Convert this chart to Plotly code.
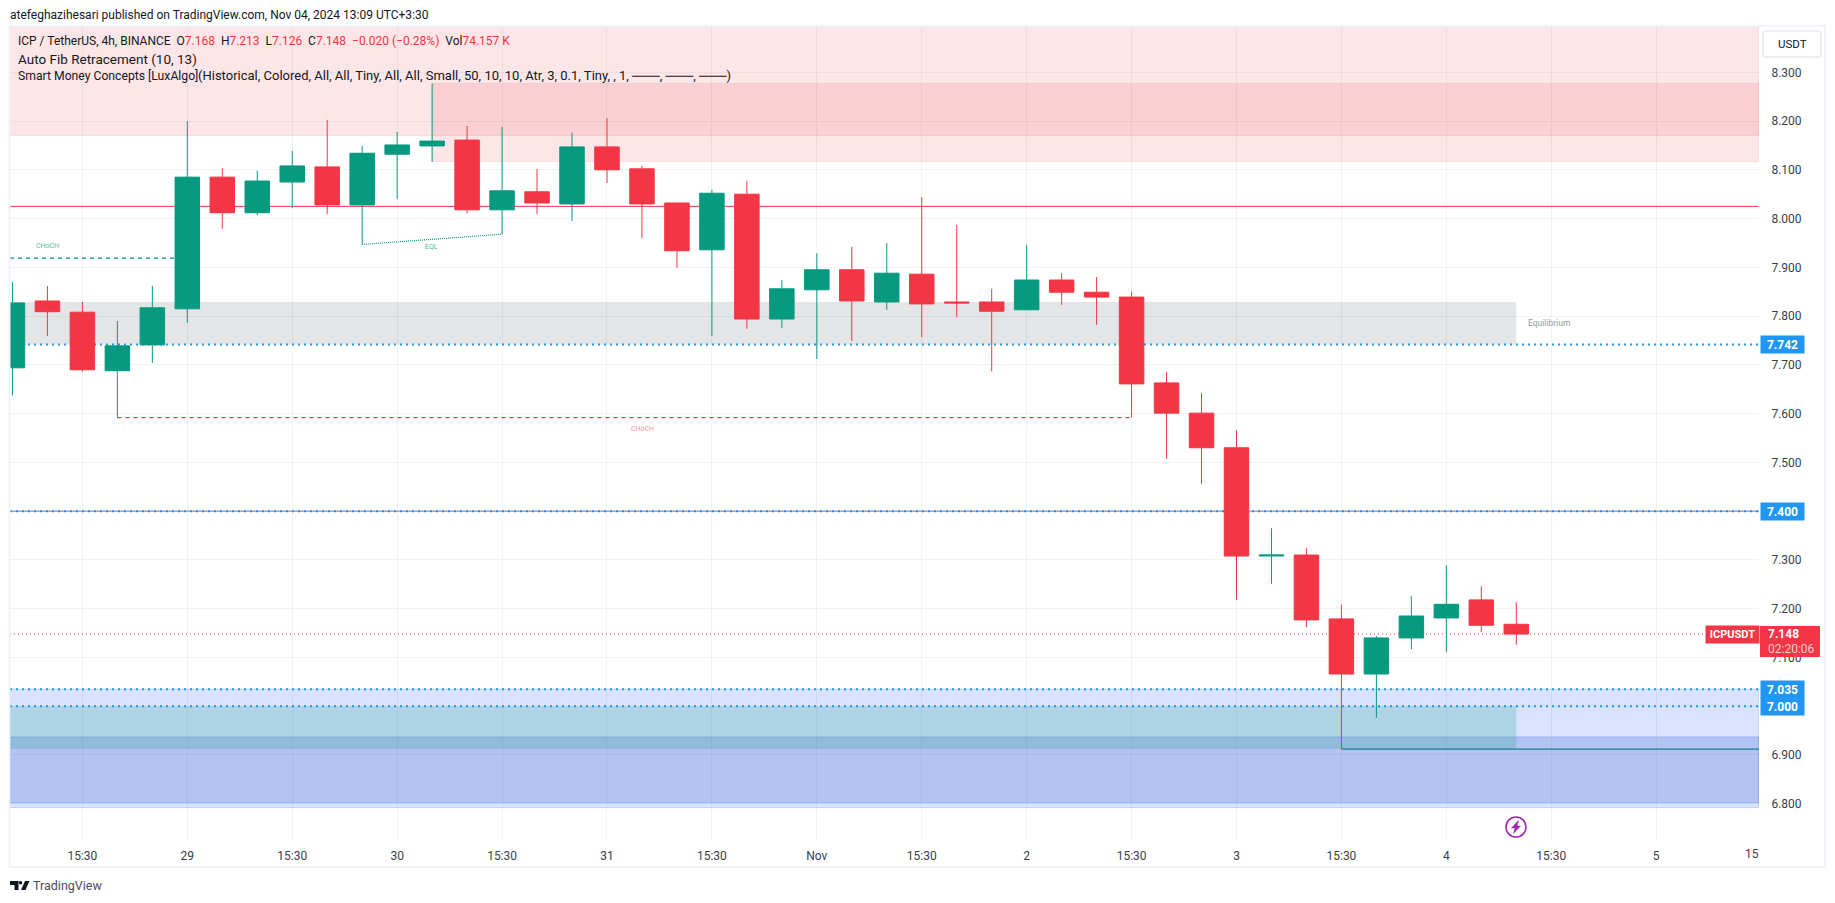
import plotly.graph_objects as go

# ---- data ----
idx = list(range(44))
opens  = [7.694,7.831,7.808,7.688,7.741,7.815,8.085,8.012,8.075,8.106,8.028,8.132,8.149,8.161,8.018,8.055,8.030,8.147,8.102,8.032,7.936,8.050,7.794,7.854,7.895,7.829,7.886,7.829,7.829,7.813,7.874,7.849,7.839,7.663,7.601,7.530,7.308,7.310,7.179,7.066,7.140,7.181,7.218,7.168]
highs  = [7.870,7.862,7.829,7.790,7.862,8.200,8.104,8.098,8.139,8.202,8.149,8.178,8.277,8.190,8.188,8.102,8.176,8.206,8.108,8.032,8.059,8.077,7.874,7.929,7.942,7.950,8.044,7.987,7.856,7.946,7.888,7.880,7.851,7.685,7.642,7.566,7.365,7.324,7.208,7.144,7.226,7.289,7.246,7.213]
lows   = [7.637,7.759,7.686,7.592,7.704,7.786,7.979,8.007,8.022,8.009,7.947,8.040,8.116,8.011,7.968,8.009,7.995,8.073,7.960,7.899,7.759,7.774,7.776,7.712,7.749,7.813,7.757,7.798,7.687,7.813,7.823,7.782,7.592,7.507,7.456,7.218,7.251,7.162,6.912,6.976,7.117,7.111,7.152,7.126]
closes = [7.827,7.809,7.690,7.739,7.817,8.085,8.012,8.077,8.108,8.028,8.134,8.151,8.159,8.018,8.057,8.032,8.147,8.100,8.030,7.934,8.052,7.794,7.856,7.895,7.831,7.888,7.825,7.827,7.810,7.874,7.849,7.839,7.661,7.601,7.530,7.308,7.310,7.177,7.066,7.140,7.185,7.209,7.166,7.148]

x_tick_pos    = [2,5,8,11,14,17,20,23,26,29,32,35,38,41,44,47]
x_tick_labels = ["15:30","29","15:30","30","15:30","31","15:30","Nov","15:30","2","15:30","3","15:30","4","15:30","5"]
y_tick_pos    = [8.3,8.2,8.1,8.0,7.9,7.8,7.7,7.6,7.5,7.4,7.3,7.2,7.1,7.0,6.9,6.8]
y_tick_labels = ["8.300","8.200","8.100","8.000","7.900","7.800","7.700","7.600","7.500","","7.300","7.200","7.100","","6.900","6.800"]

price_levels   = [7.742, 7.400, 7.035, 7.000]
last_price     = 7.148
red_level      = 8.025
choch_up_level, choch_up_end = 7.919, 5
choch_dn_level, choch_dn_start, choch_dn_end = 7.592, 3, 32
eql_points     = [(10, 7.947), (14, 7.968)]
low_level, low_start = 6.912, 38

premium_wide   = (8.17, 8.40, -1)
premium_block  = (8.117, 8.277, 12)
equilibrium    = (7.742, 7.829, 43)
discount_wide  = (6.792, 7.035)
discount_block = (6.802, 6.937)
teal_block     = (6.912, 7.000, 43)

UP, DOWN, BLUE = "#089981", "#F23645", "#2196F3"
TXT = "#131722"
FONT = "Roboto"
L, R, T, B = 10, 1759, 27, 840      # plot rectangle, pixels
XMIN, XMAX = -0.07, 49.94
YMIN, YMAX = 6.7256, 8.3929
GRID = "rgba(42,46,57,0.06)"

def px(v): return (v - L) / (R - L)
def py(v): return (B - v) / (B - T)

fig = go.Figure(go.Candlestick(
    x=idx, open=opens, high=highs, low=lows, close=closes,
    whiskerwidth=0, hoverinfo="skip",
    increasing=dict(line=dict(color=UP, width=1), fillcolor=UP),
    decreasing=dict(line=dict(color=DOWN, width=1), fillcolor=DOWN),
))

shapes = []
def rect(x0, x1, y0, y1, fill, line="rgba(0,0,0,0)"):
    shapes.append(dict(type="rect", xref="x", yref="y", x0=x0, x1=x1, y0=y0, y1=y1,
                       fillcolor=fill, line=dict(color=line, width=1), layer="below"))
def hline(y, x0, x1, color, width=1, dash="solid"):
    shapes.append(dict(type="line", xref="x", yref="y", x0=x0, x1=x1, y0=y, y1=y,
                       line=dict(color=color, width=width, dash=dash), layer="below"))

PINK, PINK_L = "rgba(242,54,69,0.125)", "rgba(242,54,69,0.10)"
BL, BL_L = "rgba(41,98,255,0.18)", "rgba(30,80,220,0.22)"
rect(XMIN, XMAX, premium_wide[0], premium_wide[1], PINK, PINK_L)
rect(premium_block[2], XMAX, premium_block[0], premium_block[1], PINK, PINK_L)
rect(XMIN, equilibrium[2], equilibrium[0], equilibrium[1], "rgba(120,123,134,0.2)")
rect(XMIN, XMAX, discount_wide[0], discount_wide[1], BL, BL_L)
rect(XMIN, XMAX, discount_block[0], discount_block[1], "rgba(30,70,200,0.2)", BL_L)
rect(XMIN, teal_block[2], teal_block[0], teal_block[1], "rgba(8,153,129,0.2)")

hline(red_level, XMIN, XMAX, "#F23645", 1)
hline(price_levels[1], XMIN, XMAX, "#6C8DB5", 1)
for lv in price_levels:
    hline(lv, XMIN, XMAX, BLUE, 2, "2px,4px")
hline(last_price, XMIN, XMAX, DOWN, 1, "1px,3px")
hline(choch_up_level, XMIN, choch_up_end, UP, 1.3, "4px,4px")
hline(choch_dn_level, choch_dn_start, choch_dn_end, DOWN, 1.3, "4px,4px")
hline(low_level, low_start, XMAX, "#14808F", 1.2)
shapes.append(dict(type="line", xref="x", yref="y", x0=eql_points[0][0], y0=eql_points[0][1],
                   x1=eql_points[1][0], y1=eql_points[1][1], layer="below",
                   line=dict(color=UP, width=1.2, dash="1px,1px")))

# frame, USDT box, tags, icon, logo (page furniture, pixel placed)
def page_shape(**k):
    shapes.append(dict(xref="paper", yref="paper", layer="above", **k))
page_shape(type="rect", x0=px(9.5), x1=px(1825), y0=py(26), y1=py(867), line=dict(color="#F0F3FA", width=2))

def P(*pts):
    return " ".join(f"{c}{px(a):.5f},{py(b):.5f}" for c, a, b in pts)
page_shape(type="path", path=P(("M",1766,31),("L",1818,31),("Q",1821,31),("",1821,34),("L",1821,54),("Q",1821,57),("",1818,57),("L",1766,57),("Q",1763,57),("",1763,54),("L",1763,34),("Q",1763,31),("",1766,31)) + " Z",
           line=dict(color="#E6E9F0", width=1.5), fillcolor="#FFFFFF")
page_shape(type="rect", x0=px(1760), x1=px(1820), y0=py(626), y1=py(657), line=dict(width=0), fillcolor=DOWN)
page_shape(type="circle", x0=px(1506), x1=px(1526), y0=py(817), y1=py(837), line=dict(color="#9C27B0", width=1.6), fillcolor="rgba(0,0,0,0)")
page_shape(type="path", path=P(("M",1518.5,820.5),("L",1511.5,828),("L",1515,828),("L",1513.5,833.5),("L",1520.5,826),("L",1517,826)) + " Z",
           line=dict(color="#9C27B0", width=0.5), fillcolor="#9C27B0")
page_shape(type="path", path=P(("M",10,881),("L",18.5,881),("L",18.5,890),("L",14.5,890),("L",14.5,885),("L",10,885)) + " Z", line=dict(width=0), fillcolor=TXT)
page_shape(type="circle", x0=px(18.7), x1=px(22.3), y0=py(881), y1=py(884.6), line=dict(width=0), fillcolor=TXT)
page_shape(type="path", path=P(("M",25,881),("L",29.5,881),("L",25.5,890),("L",21,890)) + " Z", line=dict(width=0), fillcolor=TXT)

ann = []
def text(x, y, s, size=12, color=TXT, anchor="left", **k):
    ann.append(dict(xref="paper", yref="paper", x=px(x), y=py(y), text=s, showarrow=False,
                    xanchor=anchor, yanchor="middle", font=dict(family=FONT, size=size, color=color),
                    borderpad=0, borderwidth=0, **k))

text(10, 15, "atefeghazihesari published on TradingView.com, Nov 04, 2024 13:09 UTC+3:30", 12)
r = lambda s: f'<span style="color:{DOWN}">{s}</span>'
text(18, 41, "ICP / TetherUS, 4h, BINANCE&nbsp;&nbsp;O" + r("7.168") + "&nbsp;&nbsp;H" + r("7.213") + "&nbsp;&nbsp;L" + r("7.126")
     + "&nbsp;&nbsp;C" + r("7.148") + "&nbsp;&nbsp;" + r("−0.020 (−0.28%)") + "&nbsp;&nbsp;Vol" + r("74.157 K"), 12)
text(18, 59, "Auto Fib Retracement (10, 13)", 13.5)
text(18, 76, "Smart Money Concepts [LuxAlgo]", 12.2)
text(198, 76, "(Historical, Colored, All, All, Tiny, All, All, Small, 50, 10, 10, Atr, 3, 0.1, Tiny, , 1, ───, ───, ───)", 13)
text(47, 245.5, "CHoCH", 7, "rgba(8,153,129,0.75)", "center")
text(642, 429, "CHoCH", 7, "rgba(242,54,69,0.6)", "center")
text(431.5, 247, "EQL", 7, "rgba(8,153,129,0.75)", "center")
text(1528, 323, "Equilibrium", 8.5, "#9598A1")
text(1792, 44, "USDT", 11.5, TXT, "center")
text(1752, 854, "15", 12, "#3A3E4A", "center")
text(33, 886, "TradingView", 12.5, "#4A4E5A")
text(1768, 634, "<b>7.148</b>", 12, "#FFFFFF")
text(1768, 649, "02:20:06", 12, "#FBC8CC")

def tag(y, label, color=BLUE, h=17):
    ann.append(dict(xref="paper", yref="y", x=px(1760), y=y, text=label, showarrow=False, xanchor="left", yanchor="middle",
                    width=43, height=h, bgcolor=color, borderpad=0, align="center",
                    font=dict(family=FONT, size=12, color="#FFFFFF")))
tag(price_levels[0], "<b>7.742</b>")
tag(price_levels[1], "<b>7.400</b>")
tag(price_levels[2], "<b>7.035</b>")
tag(price_levels[3], "<b>7.000</b>")
ann.append(dict(xref="paper", yref="paper", x=px(1705), y=py(634.5), text="<b>ICPUSDT</b>", showarrow=False,
                xanchor="left", yanchor="middle", width=53, height=17, bgcolor=DOWN, borderpad=0, align="center",
                font=dict(family=FONT, size=11, color="#FFFFFF")))

fig.update_layout(
    width=1835, height=903, margin=dict(l=L, r=1835 - R, t=T, b=903 - B, pad=0),
    paper_bgcolor="#FFFFFF", plot_bgcolor="#FFFFFF", showlegend=False, boxgap=0,
    font=dict(family=FONT, size=12, color=TXT), shapes=shapes, annotations=ann, hovermode=False,
    xaxis=dict(range=[XMIN, XMAX], tickmode="array", tickvals=x_tick_pos, ticktext=x_tick_labels,
               rangeslider=dict(visible=False), showgrid=True, gridcolor=GRID, gridwidth=1, zeroline=False,
               showline=False, ticks="outside", ticklen=5, tickcolor="rgba(0,0,0,0)", tickangle=0,
               tickfont=dict(family=FONT, size=12, color="#3A3E4A")),
    yaxis=dict(range=[YMIN, YMAX], side="right", tickmode="array", tickvals=y_tick_pos, ticktext=y_tick_labels,
               showgrid=True, gridcolor=GRID, gridwidth=1, zeroline=False, showline=False,
               ticks="outside", ticklen=9, tickcolor="rgba(0,0,0,0)",
               tickfont=dict(family=FONT, size=12, color="#3A3E4A")),
)

fig.write_html("out.html", config=dict(displayModeBar=False),
               post_script="document.body.style.margin='0';document.body.style.overflow='hidden';")
